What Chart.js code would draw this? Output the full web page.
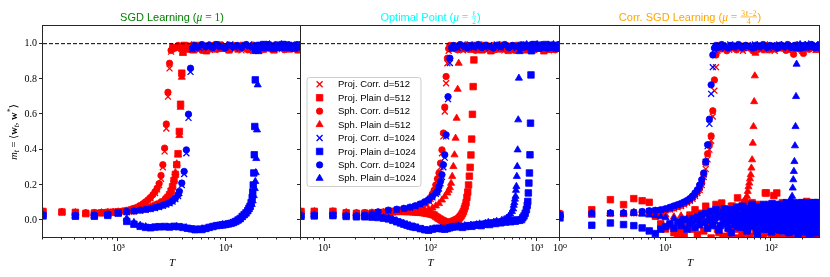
<!DOCTYPE html>
<html><head><meta charset="utf-8">
<script src="https://cdn.jsdelivr.net/npm/chart.js@4.4.0/dist/chart.umd.min.js"></script>
<style>
html,body{margin:0;padding:0;background:#fff;}
#wrap{position:relative;width:830px;height:277px;overflow:hidden;}
#wrap canvas{position:absolute;left:0;top:0;}
</style></head><body>
<div id="wrap">
<canvas id="c1" width="830" height="277"></canvas>
<canvas id="c2" width="830" height="277"></canvas>
<canvas id="c3" width="830" height="277"></canvas>
</div>
<script>
// ================= DATA =================
const seriesLabels = ['Proj. Corr. d=512','Proj. Plain d=512','Sph. Corr. d=512','Sph. Plain d=512',
                      'Proj. Corr. d=1024','Proj. Plain d=1024','Sph. Corr. d=1024','Sph. Plain d=1024'];
const yRange = [-0.1, 1.1];
const yTicks = [0, 0.2, 0.4, 0.6, 0.8, 1.0];
const yTickLabels = ['0.0','0.2','0.4','0.6','0.8','1.0'];
const refLevel = 1.0;

const p1_xRange = [200, 50000];
const p1_xMajor = [1e3, 1e4];
const p1_xMajorLabels = ['10³','10⁴'];
const p2_xRange = [6, 1660];
const p2_xMajor = [10, 100, 1000];
const p2_xMajorLabels = ['10¹','10²','10³'];
const p3_xRange = [1, 290];
const p3_xMajor = [1, 10, 100];
const p3_xMajorLabels = ['10⁰','10¹','10²'];

// ---- Panel 1 : SGD Learning ----
const p1_projCorr512 = [[200,.048],[300,.046],[400,.044],[500,.042],[600,.043],[700,.044],[800,.046],[900,.047],[1000,.049],[1200,.055],[1400,.066],[1600,.08],[1800,.1],[2000,.124],[2200,.155],[2300,.175],[2400,.2],[2500,.235],[2600,.3],[2700,.39],[2800,.52],[2900,.7],[3000,.86],[3100,.955],[3200,.98],[3500,.97],[3800,.988],[4200,.972],[4700,.99],[5200,.968],[5800,.985],[6400,.975],[7100,.992],[7900,.965],[8800,.98],[9800,.99],[11000,.97],[12500,.985],[14000,.962],[16000,.98],[18000,.99],[20500,.97],[23000,.985],[26000,.975],[29000,.99],[33000,.968],[37000,.985],[41000,.975],[45000,.99],[49000,.97]];
const p1_projPlain512 = [[200,.05],[300,.047],[400,.045],[500,.038],[600,.04],[700,.042],[800,.044],[900,.045],[1000,.047],[1200,.05],[1400,.054],[1600,.06],[1800,.066],[2000,.074],[2200,.082],[2400,.092],[2600,.104],[2800,.12],[2900,.13],[3000,.145],[3100,.165],[3200,.19],[3300,.225],[3400,.26],[3500,.315],[3600,.377],[3700,.503],[3800,.657],[3900,.833],[4000,.955],[4100,.99],[4300,.97],[4600,.985],[5000,.965],[5500,.99],[6000,.975],[6600,.96],[7200,.985],[8000,.97],[8800,.992],[9700,.975],[10700,.965],[11800,.985],[13000,.97],[14500,.99],[16000,.975],[18000,.962],[20000,.985],[22500,.97],[25000,.99],[28000,.965],[31000,.98],[35000,.99],[39000,.97],[43000,.985],[47000,.965],[50000,.98]];
const p1_sphCorr512 = [[200,.05],[300,.048],[400,.045],[500,.043],[600,.044],[700,.045],[800,.047],[900,.048],[1000,.05],[1100,.053],[1200,.057],[1300,.062],[1400,.068],[1500,.075],[1600,.084],[1700,.094],[1800,.105],[1900,.117],[2000,.13],[2100,.145],[2200,.162],[2300,.182],[2400,.208],[2500,.254],[2600,.315],[2700,.409],[2800,.545],[2900,.725],[3000,.889],[3100,.962],[3200,.982],[3400,.975],[3600,.99],[3900,.97],[4200,.985],[4600,.968],[5000,.992],[5500,.975],[6000,.962],[6600,.985],[7200,.97],[8000,.995],[8800,.972],[9700,.983],[10700,.965],[11800,.99],[13000,.975],[14500,.985],[16000,.965],[18000,.992],[20000,.978],[22500,.968],[25000,.99],[28000,.975],[31000,.985],[35000,.966],[39000,.99],[43000,.975],[47000,.985],[50000,.97]];
const p1_sphPlain512 = [[200,.048],[300,.046],[400,.044],[500,.04],[600,.041],[700,.043],[800,.044],[900,.046],[1000,.048],[1200,.051],[1400,.056],[1600,.062],[1800,.069],[2000,.077],[2200,.086],[2400,.097],[2600,.11],[2800,.126],[3000,.15],[3100,.17],[3200,.195],[3300,.23],[3400,.27],[3500,.32],[3600,.37],[3700,.48],[3800,.64],[3900,.81],[4000,.945],[4100,.985],[4400,.975],[4800,.99],[5200,.97],[5700,.985],[6300,.965],[6900,.99],[7600,.975],[8400,.985],[9300,.968],[10300,.99],[11400,.975],[12700,.985],[14000,.97],[15500,.99],[17000,.965],[19000,.98],[21500,.99],[24000,.975],[27000,.965],[30000,.985],[34000,.975],[38000,.99],[42000,.97],[46000,.985],[50000,.975]];
const p1_projCorr1024 = [[200,.028],[400,.026],[600,.028],[800,.033],[1000,.04],[1200,.047],[1400,.051],[1600,.055],[1800,.06],[2000,.064],[2200,.07],[2400,.075],[2600,.082],[2800,.089],[3000,.097],[3200,.106],[3400,.12],[3600,.138],[3700,.155],[3900,.2],[4100,.262],[4300,.38],[4500,.58],[4700,.84],[4900,.968],[5200,.985],[5700,.975],[6200,.99],[6800,.98],[7500,.995],[8200,.978],[9000,.99],[10000,.982],[11000,.995],[12200,.975],[13500,.99],[15000,.985],[16500,.995],[18000,.978],[19500,.99],[21500,.982],[23500,.995],[26000,.985],[28500,.975],[31000,.99],[34000,.982],[37000,.995],[40000,.978],[43000,.99],[46000,.985],[49000,.995]];
const p1_projPlain1024 = [[200,.025],[400,.023],[600,.023],[800,.028],[1000,.042],[1200,-.006],[1400,-.022],[1600,-.034],[1800,-.04],[2000,-.042],[2200,-.038],[2400,-.036],[2700,-.035],[3000,-.038],[3300,-.034],[3600,-.036],[4000,-.04],[4400,-.045],[4800,-.048],[5200,-.053],[5600,-.05],[6000,-.052],[6500,-.046],[7000,-.04],[7600,-.035],[8200,-.03],[8800,-.028],[9400,-.026],[10000,-.023],[10600,-.02],[11200,-.017],[11800,-.012],[12400,-.006],[13000,.002],[13600,.01],[14200,.022],[14800,.032],[15400,.042],[16000,.055],[16400,.068],[16800,.08],[17200,.1],[17600,.13],[17800,.16],[18000,.2],[18200,.268],[18400,.371],[18600,.531],[18800,.795],[19000,.964],[19200,.985],[19800,.975],[20600,.99],[21500,.98],[22500,.995],[23500,.978],[25000,.99],[26500,.985],[28000,.975],[30000,.992],[32000,.982],[34000,.995],[36000,.978],[38500,.99],[41000,.985],[43500,.975],[46000,.992],[48500,.982],[50000,.99]];
const p1_sphCorr1024 = [[200,.03],[400,.028],[600,.03],[800,.035],[1000,.042],[1200,.05],[1400,.053],[1600,.058],[1800,.062],[2000,.066],[2200,.072],[2400,.078],[2600,.085],[2800,.092],[3000,.1],[3200,.11],[3400,.125],[3600,.145],[3700,.164],[3900,.211],[4100,.277],[4300,.399],[4500,.601],[4700,.861],[4900,.974],[5100,.99],[5500,.98],[6000,.995],[6500,.982],[7000,.99],[7600,.978],[8300,.995],[9000,.985],[9800,.975],[10700,.992],[11700,.982],[12800,.99],[14000,.978],[15500,.995],[17000,.985],[18500,.975],[20000,.99],[22000,.982],[24000,.995],[26500,.98],[29000,.99],[32000,.978],[35000,.995],[38000,.985],[41000,.975],[44000,.99],[47000,.982],[50000,.995]];
const p1_sphPlain1024 = [[200,.03],[400,.025],[600,.026],[800,.03],[1000,.036],[1200,.01],[1400,-.012],[1600,-.028],[1800,-.036],[2000,-.045],[2300,-.04],[2600,-.042],[2900,-.038],[3200,-.04],[3500,-.035],[3900,-.038],[4300,-.042],[4700,-.05],[5100,-.055],[5500,-.054],[6000,-.048],[6500,-.05],[7000,-.043],[7500,-.038],[8100,-.033],[8700,-.03],[9300,-.024],[9900,-.028],[10500,-.022],[11100,-.018],[11700,-.014],[12300,-.008],[12900,-.002],[13500,.006],[14100,.016],[14700,.028],[15300,.038],[15900,.05],[16400,.062],[16900,.075],[17400,.09],[17800,.11],[18200,.14],[18600,.18],[18800,.22],[19000,.27],[19200,.35],[19500,.512],[19800,.767],[20200,.955],[20600,.985],[21500,.975],[22500,.99],[24000,.98],[25500,.995],[27000,.975],[29000,.99],[31000,.982],[33000,.995],[35500,.978],[38000,.99],[40500,.985],[43000,.975],[45500,.99],[48000,.982],[50000,.995]];

// ---- Panel 2 : Optimal Point ----
const p2_projCorr512 = [[6,.048],[8,.049],[12,.047],[16,.044],[20,.042],[24,.043],[28,.044],[32,.045],[36,.047],[40,.049],[48,.053],[56,.058],[64,.066],[72,.074],[80,.083],[88,.094],[96,.11],[100,.122],[104,.14],[108,.16],[112,.188],[116,.22],[120,.25],[124,.3],[128,.38],[132,.475],[136,.616],[140,.776],[144,.889],[148,.96],[152,.985],[162,.97],[174,.99],[188,.975],[203,.962],[220,.985],[240,.97],[260,.99],[285,.975],[310,.965],[340,.985],[375,.97],[410,.99],[450,.975],[495,.962],[545,.985],[600,.97],[660,.99],[725,.975],[800,.965],[880,.985],[970,.97],[1070,.99],[1180,.975],[1300,.962],[1430,.985],[1580,.97]];
const p2_projPlain512 = [[6,.05],[8,.051],[12,.051],[16,.042],[20,.038],[24,.038],[28,.038],[32,.04],[36,.043],[40,.046],[44,.048],[48,.05],[52,.051],[56,.05],[60,.05],[64,.049],[68,.048],[72,.047],[76,.046],[80,.045],[84,.044],[88,.042],[92,.04],[96,.038],[100,.036],[104,.033],[108,.03],[112,.022],[116,.016],[120,.01],[124,.005],[128,0],[132,-.004],[136,-.008],[140,-.012],[144,-.014],[148,-.015],[152,-.013],[156,-.01],[160,-.008],[164,-.006],[168,-.003],[172,0],[176,.003],[180,.006],[184,.01],[188,.016],[192,.023],[196,.03],[200,.04],[204,.05],[208,.065],[212,.08],[216,.1],[220,.13],[224,.16],[228,.2],[232,.25],[236,.3],[240,.37],[244,.46],[248,.6],[252,.757],[256,.908],[260,.975],[266,.99],[275,.97],[288,.985],[303,.965],[322,.99],[345,.975],[370,.96],[400,.985],[430,.97],[465,.99],[500,.975],[540,.962],[585,.985],[630,.97],[680,.99],[735,.975],[795,.965],[860,.985],[930,.97],[1000,.99],[1080,.975],[1170,.96],[1260,.985],[1360,.97],[1470,.99],[1600,.975]];
const p2_sphCorr512 = [[6,.05],[8,.05],[12,.048],[16,.045],[20,.043],[24,.044],[28,.045],[32,.046],[36,.048],[40,.05],[44,.052],[48,.054],[52,.057],[56,.06],[60,.064],[64,.068],[68,.072],[72,.076],[76,.08],[80,.085],[84,.09],[88,.097],[92,.105],[96,.115],[100,.13],[104,.15],[108,.17],[112,.2],[116,.235],[120,.268],[124,.324],[128,.399],[132,.494],[136,.641],[140,.814],[144,.918],[148,.972],[152,.99],[160,.975],[170,.988],[180,.965],[195,.985],[210,.97],[225,.99],[245,.975],[265,.962],[290,.985],[315,.97],[340,.99],[370,.975],[400,.965],[440,.985],[480,.97],[520,.99],[570,.975],[620,.962],[680,.985],[740,.97],[810,.99],[880,.975],[960,.965],[1050,.985],[1150,.97],[1250,.99],[1370,.975],[1500,.965],[1650,.985]];
const p2_sphPlain512 = [[6,.048],[8,.05],[12,.05],[16,.044],[20,.04],[24,.041],[28,.042],[32,.043],[36,.045],[40,.046],[48,.048],[56,.05],[64,.053],[72,.056],[80,.058],[88,.06],[96,.062],[104,.07],[112,.082],[120,.095],[128,.115],[136,.135],[144,.155],[148,.17],[152,.185],[156,.21],[160,.249],[164,.305],[168,.371],[172,.465],[176,.578],[180,.742],[184,.889],[188,.964],[192,.985],[200,.97],[212,.99],[225,.975],[240,.962],[258,.985],[278,.97],[300,.99],[325,.975],[350,.965],[380,.985],[415,.97],[450,.99],[490,.975],[535,.962],[585,.985],[640,.97],[700,.99],[765,.975],[835,.965],[915,.985],[1000,.97],[1100,.99],[1200,.975],[1320,.962],[1450,.985],[1600,.97]];
const p2_projCorr1024 = [[6,.022],[8,.025],[12,.025],[16,.024],[24,.028],[32,.045],[40,.055],[48,.06],[56,.065],[64,.072],[72,.08],[80,.09],[88,.1],[96,.112],[104,.13],[112,.15],[116,.158],[120,.18],[124,.21],[128,.245],[132,.3],[136,.355],[140,.475],[146,.686],[152,.89],[158,.97],[166,.985],[180,.975],[196,.99],[214,.98],[233,.995],[254,.978],[276,.99],[300,.985],[326,.975],[355,.992],[386,.982],[420,.995],[457,.978],[497,.99],[540,.985],[588,.975],[640,.992],[696,.982],[757,.995],[824,.978],[896,.99],[975,.985],[1060,.975],[1155,.992],[1255,.982],[1365,.995],[1485,.978],[1615,.99]];
const p2_projPlain1024 = [[6,.023],[8,.025],[12,.027],[16,.022],[20,.02],[24,.02],[28,.018],[32,.016],[36,.012],[40,.008],[44,0],[48,-.008],[52,-.015],[56,-.022],[60,-.028],[64,-.033],[68,-.037],[72,-.04],[80,-.047],[88,-.053],[96,-.056],[104,-.05],[112,-.046],[120,-.045],[128,-.048],[136,-.05],[144,-.046],[152,-.042],[160,-.038],[170,-.035],[180,-.036],[190,-.034],[200,-.04],[215,-.035],[230,-.03],[245,-.034],[260,-.028],[280,-.025],[300,-.03],[320,-.022],[340,-.018],[360,-.024],[385,-.015],[410,-.018],[435,-.01],[460,-.014],[485,-.006],[510,-.01],[540,-.003],[570,-.008],[600,0],[630,-.005],[660,.002],[690,0],[720,.004],[740,.015],[760,.025],[780,.04],[800,.06],[815,.085],[825,.107],[835,.155],[845,.211],[855,.268],[865,.371],[875,.55],[884,.823],[893,.96],[905,.99],[930,.98],[960,.995],[1000,.985],[1050,.975],[1100,.99],[1160,.982],[1220,.995],[1290,.978],[1360,.99],[1440,.985],[1530,.975],[1620,.99]];
const p2_sphCorr1024 = [[6,.025],[8,.027],[12,.027],[16,.025],[20,.026],[24,.03],[28,.036],[32,.048],[40,.058],[48,.063],[56,.068],[64,.075],[72,.083],[80,.093],[88,.105],[96,.118],[104,.136],[112,.155],[116,.164],[120,.19],[124,.22],[128,.258],[132,.315],[136,.371],[140,.484],[146,.70],[152,.918],[158,.975],[164,.99],[175,.98],[190,.995],[205,.985],[222,.975],[240,.99],[260,.982],[282,.995],[305,.978],[330,.99],[360,.985],[390,.975],[425,.992],[460,.982],[500,.995],[545,.978],[590,.99],[640,.985],[700,.975],[760,.992],[830,.982],[900,.995],[980,.978],[1070,.99],[1160,.985],[1260,.975],[1370,.992],[1490,.982],[1620,.995]];
const p2_sphPlain1024 = [[6,.028],[8,.03],[12,.03],[16,.026],[20,.024],[24,.022],[28,.02],[32,.018],[36,.015],[40,.012],[44,.006],[48,-.002],[52,-.01],[56,-.018],[60,-.024],[64,-.03],[70,-.036],[76,-.042],[84,-.05],[92,-.058],[100,-.052],[108,-.048],[116,-.05],[124,-.044],[132,-.047],[140,-.052],[150,-.045],[160,-.04],[172,-.037],[184,-.032],[196,-.036],[210,-.03],[225,-.033],[240,-.027],[255,-.03],[272,-.024],[290,-.02],[310,-.026],[330,-.017],[350,-.012],[372,-.018],[395,-.01],[420,-.006],[445,-.012],[470,0],[495,.004],[520,.012],[545,.022],[565,.035],[585,.05],[600,.065],[608,.085],[616,.1],[624,.12],[632,.136],[638,.17],[644,.192],[650,.249],[656,.305],[662,.399],[670,.569],[680,.805],[690,.955],[700,.985],[720,.975],[745,.99],[775,.98],[805,.995],[840,.985],[880,.975],[920,.99],[965,.982],[1010,.995],[1060,.978],[1115,.99],[1170,.985],[1230,.975],[1295,.992],[1365,.982],[1440,.995],[1520,.978],[1600,.99]];

// ---- Panel 3 : Corr. SGD Learning ----
const p3_projCorr512 = [[1,.036],[2,.032],[3,.037],[4,.036],[5,.04],[6,.043],[7,.046],[8,.048],[9,.052],[10,.056],[11,.061],[12,.067],[13,.074],[14,.081],[15,.09],[16,.1],[17,.11],[18,.122],[19,.138],[20,.155],[21,.172],[22,.2],[23,.245],[24,.29],[25,.345],[26,.4],[27,.45],[28,.588],[29,.734],[30,.867],[31,.96],[33,.985],[35,.97],[37,.99],[40,.965],[43,.985],[46,.975],[50,.99],[54,.96],[58,.98],[63,.99],[68,.97],[74,.985],[80,.965],[86,.99],[93,.975],[100,.985],[108,.96],[117,.99],[126,.975],[136,.985],[147,.965],[158,.99],[170,.975],[183,.985],[197,.96],[212,.99],[228,.975],[245,.985],[263,.965],[283,.99]];
const p3_projPlain512 = [[1,.032],[2,.06],[3,.117],[4,.089],[5,.123],[6,.111],[7,.102],[8,.023],[9,-.02],[10,-.049],[11,-.03],[12,-.07],[13,-.09],[14,-.06],[15,-.09],[16,-.02],[17,.03],[18,-.05],[19,.06],[20,-.08],[21,.01],[22,.04],[23,-.06],[24,.08],[25,-.03],[26,.02],[27,-.1],[28,.05],[29,0],[30,.09],[32,-.07],[34,.098],[36,-.006],[38,.06],[40,-.09],[42,.08],[44,.02],[46,-.05],[48,.127],[50,.07],[53,-.08],[56,.1],[59,.03],[62,-.1],[65,.07],[68,.05],[71,-.06],[74,.09],[77,0],[80,.08],[84,-.09],[88,.155],[92,.04],[96,-.07],[100,.06],[104,.01],[108,-.1],[113,.155],[118,.06],[123,-.05],[128,.1],[133,-.02],[138,.09],[143,-.09],[148,.07],[153,0],[158,.07],[163,-.1],[168,.05],[174,.08],[180,-.06],[182,-.09],[188,.1],[194,.02],[200,-.08],[206,.075],[212,.04],[217,.107],[222,-.1],[228,.07],[234,-.03],[240,.085],[246,0],[252,-.09],[260,.07],[266,.05],[272,-.07],[278,.1],[284,-.02],[290,.09],
  [31,-.05],[33,.07],[35,-.09],[37,.04],[39,.06],[41,-.06],[43,.08],[45,0],[47,-.1],[49,.07],[51,.03],[54,-.07],[57,.05],[60,.06],[63,-.09],[66,.1],[69,0],[72,.06],[75,-.08],[78,.07],[81,-.1],[83,.08],[86,.02],[90,.155],[93,-.06],[97,.09],[101,-.1],[106,.14],[110,.04],[115,-.08],[120,.07],[125,.06],[130,-.1],[135,.06],[140,.02],[145,-.07],[150,.08],[155,.08],[160,-.09],[166,.06],[171,.03],[177,-.1],[185,.09],[191,.06],[197,-.07],[203,.07],[209,-.1],[215,.08],[220,.04],[225,-.08],[231,.09],[237,.07],[243,-.1],[249,.06],[256,.03],[263,-.09],[269,.085],[275,.06],[281,-.1],[287,.07]];
const p3_sphCorr512 = [[1,.04],[2,.035],[3,.04],[4,.038],[5,.042],[6,.045],[7,.048],[8,.05],[9,.054],[10,.058],[11,.064],[12,.07],[13,.078],[14,.085],[15,.095],[16,.105],[17,.115],[18,.128],[19,.145],[20,.162],[21,.18],[22,.21],[23,.26],[24,.324],[25,.377],[26,.428],[27,.478],[28,.62],[29,.795],[30,.936],[31,.975],[32,.99],[34,.97],[36,.985],[38,.96],[41,.99],[44,.975],[47,.965],[50,.985],[54,.97],[58,.99],[62,.975],[67,.96],[72,.985],[77,.97],[83,.99],[89,.975],[96,.965],[103,.985],[111,.97],[119,.99],[128,.975],[138,.962],[148,.985],[163,.94],[171,.99],[184,.97],[202,.945],[213,.99],[229,.968],[246,.985],[264,.97],[284,.99]];
const p3_sphPlain512 = [[1,.035],[2,.03],[3,.04],[4,.035],[5,.045],[6,.04],[7,.038],[8,.042],[9,.035],[10,.03],[12,.02],[14,.025],[16,.01],[18,.015],[20,0],[22,.01],[24,-.01],[26,.02],[28,.005],[30,.03],[32,.015],[34,.04],[36,.025],[38,.05],[40,.035],[42,.06],[44,.045],[46,.07],[48,.055],[50,.08],[52,.07],[54,.1],[56,.09],[57,.12],[58,.107],[59,.136],[60,.164],[61,.19],[62,.211],[63,.235],[64,.258],[65,.296],[66,.343],[67,.437],[68,.531],[69,.672],[70,.818],[71,.946],[72,.975],[74,.99],[78,.97],[82,.985],[87,.96],[92,.99],[98,.975],[104,.965],[111,.985],[118,.97],[126,.99],[134,.975],[143,.962],[152,.985],[162,.97],[173,.99],[184,.975],[196,.965],[209,.985],[223,.97],[238,.99],[254,.975],[271,.962],[288,.985]];
const p3_projCorr1024 = [[1,.028],[2,.036],[3,.04],[4,.04],[5,.044],[6,.048],[7,.052],[8,.055],[9,.058],[10,.063],[11,.07],[12,.078],[13,.085],[14,.092],[15,.1],[16,.108],[17,.118],[18,.131],[19,.147],[20,.165],[21,.19],[22,.22],[23,.26],[24,.33],[25,.42],[26,.546],[27,.716],[28,.867],[29,.965],[30,.985],[33,.975],[35,.99],[38,.982],[41,.995],[44,.978],[47,.99],[51,.985],[55,.975],[60,.992],[65,.982],[70,.995],[76,.978],[82,.99],[88,.985],[95,.975],[102,.992],[110,.982],[119,.995],[128,.978],[138,.99],[149,.985],[160,.975],[173,.992],[186,.982],[200,.995],[216,.978],[233,.99],[251,.985],[270,.975],[288,.992]];
const p3_projPlain1024 = [[1,.014],[2,-.028],[3,-.015],[4,-.024],[5,-.03],[6,-.043],[7,-.06],[8,-.075],[9,-.05],[10,-.035],[11,-.02],[12,-.045],[13,-.01],[14,-.03],[15,.005],[16,-.05],[17,-.015],[18,.01],[19,-.04],[20,.02],[21,-.025],[22,.03],[23,-.01],[24,.04],[25,-.045],[26,0],[27,.05],[28,-.03],[29,.015],[30,.06],[32,-.055],[34,.025],[36,.065],[38,-.02],[40,.035],[42,-.07],[44,0],[46,.055],[48,-.035],[50,.075],[53,-.01],[56,.045],[59,-.06],[62,.02],[65,.08],[68,-.025],[71,.05],[74,-.09],[77,.03],[80,-.04],[83,.07],[86,.005],[89,-.05],[92,.06],[95,-.015],[98,.085],[101,-.065],[104,.035],[107,0],[110,.09],[113,-.03],[116,.045],[120,-.055],[124,.065],[128,.01],[132,-.04],[136,.075],[140,-.02],[144,.05],[148,-.07],[152,.03],[156,.09],[160,-.01],[164,.055],[168,-.045],[172,.07],[176,0],[180,-.08],[184,.04],[188,.085],[192,-.03],[196,.02],[200,.06],[205,-.06],[210,.035],[215,.095],[220,-.02],[225,.05],[230,-.09],[235,.01],[240,.07],[245,-.04],[250,.04],[255,.1],[260,-.015],[265,.06],[270,-.07],[275,.03],[280,.08],[285,-.035],[290,.05],
  [31,.02],[33,-.03],[35,.045],[37,.005],[39,-.045],[41,.06],[43,.015],[45,-.025],[47,.07],[49,0],[51,-.04],[52,.03],[54,.08],[55,-.02],[57,.05],[58,.01],[60,-.05],[61,.065],[63,-.015],[64,.04],[66,.09],[67,0],[69,-.035],[70,.055],[72,.015],[73,-.06],[75,.075],[76,.025],[78,-.02],[79,.06],[81,0],[82,-.05],[84,.045],[85,.09],[87,-.03],[88,.03],[90,.07],[91,-.01],[93,-.045],[94,.05],[96,.01],[97,.08],[99,-.025],[100,.04],[102,.095],[103,-.005],[105,.06],[106,-.04],[108,.025],[109,.075],[111,-.02],[112,.05],[114,.005],[115,.085],[117,-.05],[118,.035],[119,.07],[121,0],[122,-.03],[123,.055],[125,.09],[126,-.01],[127,.04],[129,-.06],[130,.065],[131,.02],[133,-.035],[134,.08],[135,.03],[137,-.015],[138,.05],[139,.1],[141,0],[142,-.045],[143,.06],[145,.025],[146,.085],[147,-.025],[149,.04],[150,.07],[151,-.05],[153,.015],[154,.09],[155,-.02],[157,.055],[158,0],[159,.075],[161,-.035],[162,.045],[163,.1],[165,-.01],[166,.03],[167,.065],[169,-.06],[170,.02],[171,.085],[173,-.025],[174,.05],[175,.01],[177,.075],[178,-.045],[179,.035],[181,.095],[182,0],[183,-.03],[185,.06],[186,.015],[187,-.055],[189,.07],[190,.03],[191,-.015],[193,.05],[194,.1],[195,-.04],[197,.065],[198,.005],[199,.08],[201,-.025],[202,.04],[203,-.065],[204,.09],[206,.02],[207,-.01],[208,.06],[209,.075],[211,-.035],[212,.045],[213,0],[214,.085],[216,-.05],[217,.03],[218,.065],[219,.1],[221,.01],[222,-.03],[223,.055],[224,.08],[226,-.015],[227,.04],[228,-.06],[229,.07],[231,.02],[232,.095],[233,-.04],[234,.05],[236,0],[237,.08],[238,-.025],[239,.06],[241,.03],[242,-.05],[243,.09],[244,.015],[246,-.01],[247,.065],[248,.04],[249,-.07],[251,.075],[252,0],[253,.1],[254,-.03],[256,.05],[257,.02],[258,-.045],[259,.085],[261,.035],[262,-.02],[263,.07],[264,.005],[266,.095],[267,-.055],[268,.045],[269,.08],[271,.01],[272,-.035],[273,.06],[274,.1],[276,-.01],[277,.05],[278,-.06],[279,.085],[281,.02],[282,.065],[283,-.025],[284,.04],[286,.09],[287,-.045],[288,.07],[289,.015]];
const p3_sphCorr1024 = [[1,.03],[2,.04],[3,.042],[4,.042],[5,.046],[6,.05],[7,.054],[8,.057],[9,.06],[10,.066],[11,.074],[12,.082],[13,.089],[14,.096],[15,.104],[16,.113],[17,.124],[18,.138],[19,.155],[20,.173],[21,.2],[22,.23],[23,.268],[24,.333],[25,.428],[26,.573],[27,.767],[28,.936],[29,.975],[30,.99],[32,.98],[34,.995],[36,.985],[39,.975],[42,.99],[45,.982],[49,.995],[53,.978],[57,.99],[62,.985],[67,.975],[72,.992],[78,.982],[84,.995],[91,.978],[98,.99],[106,.985],[114,.975],[123,.992],[133,.982],[143,.995],[154,.978],[166,.99],[179,.985],[193,.975],[208,.992],[224,.982],[241,.995],[260,.978],[280,.99]];
const p3_sphPlain1024 = [[1,.03],[2,.04],[3,.038],[4,.042],[5,.04],[6,.035],[7,.03],[8,.028],[9,.02],[10,.015],[12,.01],[14,0],[16,.005],[18,-.01],[20,0],[23,-.015],[26,.01],[29,-.005],[32,.015],[35,0],[38,.02],[41,.005],[44,-.01],[47,.025],[50,.01],[54,.03],[58,-.005],[62,.02],[66,.035],[70,.01],[75,.04],[80,.02],[85,.045],[90,.025],[95,.05],[100,.03],[106,.055],[112,.04],[118,.065],[124,.05],[130,.075],[136,.06],[140,.085],[144,.09],[148,.1],[150,.107],[154,.12],[158,.136],[160,.183],[162,.23],[164,.277],[166,.333],[168,.422],[170,.531],[172,.701],[174,.884],[176,.97],[178,.99],[182,.98],[188,.995],[195,.985],[202,.975],[210,.99],[218,.982],[227,.995],[236,.978],[246,.99],[256,.985],[266,.975],[277,.992],[288,.982]];

// ================= STYLE / LAYOUT =================
const W = 830, H = 277, PLOT_TOP = 26, PLOT_BOTTOM = 238;
const SERIF = '"Liberation Serif", "DejaVu Serif", serif';
const SANS = '"Liberation Sans", "DejaVu Sans", sans-serif';
const fSans = s => `${s}px ${SANS}`;
const fSerif = s => `${s}px ${SERIF}`;
const fISerif = s => `italic ${s}px ${SERIF}`;
const fBSerif = s => `bold ${s}px ${SERIF}`;

const RED = '#ff0000', BLUE = '#0000ff';
const seriesStyles = [
  {color: RED, shape: 'crossRot'}, {color: RED, shape: 'rect'}, {color: RED, shape: 'circle'}, {color: RED, shape: 'triangle'},
  {color: BLUE, shape: 'crossRot'}, {color: BLUE, shape: 'rect'}, {color: BLUE, shape: 'circle'}, {color: BLUE, shape: 'triangle'}
];
const shapeSize = {crossRot: {r: 4.2, bw: 1.3}, rect: {r: 4.6, bw: 0.8}, circle: {r: 3.2, bw: 0.8}, triangle: {r: 4.1, bw: 0.8}};

const panels = [
  {id: 'c1', left: 43, right: 301, xRange: p1_xRange, major: p1_xMajor, majorLabels: p1_xMajorLabels, yLabels: true, legend: false,
   series: [p1_projCorr512, p1_projPlain512, p1_sphCorr512, p1_sphPlain512, p1_projCorr1024, p1_projPlain1024, p1_sphCorr1024, p1_sphPlain1024],
   title: {color: '#008000', segs: [{t: 'SGD Learning (', f: fSans(11)}, {t: 'μ', f: fISerif(11.5)}, {t: ' = 1', f: fSerif(11.5)}, {t: ')', f: fSans(11)}]}},
  {id: 'c2', left: 301, right: 560, xRange: p2_xRange, major: p2_xMajor, majorLabels: p2_xMajorLabels, yLabels: false, legend: true,
   series: [p2_projCorr512, p2_projPlain512, p2_sphCorr512, p2_sphPlain512, p2_projCorr1024, p2_projPlain1024, p2_sphCorr1024, p2_sphPlain1024],
   title: {color: '#00ffff', segs: [{t: 'Optimal Point (', f: fSans(11)}, {t: 'μ', f: fISerif(11.5)}, {t: ' = ', f: fSerif(11.5)}, {num: 'ℓ', den: '2', f: fSerif(7.5)}, {t: ')', f: fSans(11)}]}},
  {id: 'c3', left: 560, right: 820, xRange: p3_xRange, major: p3_xMajor, majorLabels: p3_xMajorLabels, yLabels: false, legend: false,
   series: [p3_projCorr512, p3_projPlain512, p3_sphCorr512, p3_sphPlain512, p3_projCorr1024, p3_projPlain1024, p3_sphCorr1024, p3_sphPlain1024],
   title: {color: '#ffa500', segs: [{t: 'Corr. SGD Learning (', f: fSans(11)}, {t: 'μ', f: fISerif(11.5)}, {t: ' = ', f: fSerif(11.5)}, {num: '3ℓ−2', den: '4', f: fSerif(7.5)}, {t: ')', f: fSans(11)}]}}
];

const yLabelSegs = [{t: 'm', f: fISerif(10.5)}, {t: 't', f: fISerif(7.5), dy: 2}, {t: ' = ⟨', f: fSerif(10.5)}, {t: 'w', f: fBSerif(10.5)},
  {t: 't', f: fISerif(7.5), dy: 2}, {t: ', ', f: fSerif(10.5)}, {t: 'w', f: fBSerif(10.5)}, {t: '*', f: fSerif(8), dy: -4}, {t: '⟩', f: fSerif(10.5)}];

// ================= HELPERS =================
function decadeTicks(range) {
  const out = [];
  const lo = Math.floor(Math.log10(range[0]) + 1e-9), hi = Math.ceil(Math.log10(range[1]) - 1e-9);
  for (let e = lo; e <= hi; e++) for (let k = 1; k <= 9; k++) {
    const v = k * Math.pow(10, e);
    if (v >= range[0] * 0.99999 && v <= range[1] * 1.00001) out.push({value: v, major: k === 1});
  }
  return out;
}
function segWidth(ctx, s) {
  ctx.font = s.f;
  if (s.num !== undefined) return Math.max(ctx.measureText(s.num).width, ctx.measureText(s.den).width) + 2;
  return ctx.measureText(s.t).width;
}
function drawRich(ctx, segs, x, y, color) {
  let w = 0; const ws = segs.map(s => { const v = segWidth(ctx, s); w += v; return v; });
  let cx = x - w / 2;
  ctx.fillStyle = color; ctx.strokeStyle = color; ctx.textBaseline = 'alphabetic'; ctx.textAlign = 'left';
  segs.forEach((s, i) => {
    ctx.font = s.f;
    if (s.num !== undefined) {
      const bar = y - 3.6, mid = cx + ws[i] / 2;
      ctx.textAlign = 'center';
      ctx.fillText(s.num, mid, bar - 1.3);
      ctx.fillText(s.den, mid, bar + 6.6);
      ctx.textAlign = 'left';
      ctx.lineWidth = 0.7; ctx.beginPath(); ctx.moveTo(cx + 0.5, bar); ctx.lineTo(cx + ws[i] - 0.5, bar); ctx.stroke();
    } else {
      ctx.fillText(s.t, cx, y + (s.dy || 0));
    }
    cx += ws[i];
  });
}
function drawShape(ctx, shape, r, x, y) {
  ctx.beginPath();
  if (shape === 'circle') { ctx.arc(x, y, r, 0, Math.PI * 2); ctx.fill(); ctx.stroke(); }
  else if (shape === 'rect') { const s = r * Math.SQRT1_2; ctx.rect(x - s, y - s, 2 * s, 2 * s); ctx.fill(); ctx.stroke(); }
  else if (shape === 'triangle') {
    ctx.moveTo(x, y - r); ctx.lineTo(x + r * 0.8660254, y + r * 0.5); ctx.lineTo(x - r * 0.8660254, y + r * 0.5); ctx.closePath(); ctx.fill(); ctx.stroke();
  } else {
    const s = r * Math.SQRT1_2;
    ctx.moveTo(x - s, y - s); ctx.lineTo(x + s, y + s); ctx.moveTo(x + s, y - s); ctx.lineTo(x - s, y + s); ctx.stroke();
  }
}

function makeDeco(cfg) {
  return {
    id: 'deco_' + cfg.id,
    afterDatasetsDraw(chart) {
      const ctx = chart.ctx, a = chart.chartArea, xs = chart.scales.x, ys = chart.scales.y;
      ctx.save();
      const L = Math.round(a.left) - 0.5, R = Math.round(a.right) - 0.5, T = Math.round(a.top) - 0.5, B = Math.round(a.bottom) - 0.5;
      ctx.strokeStyle = '#262626'; ctx.lineWidth = 1;
      ctx.strokeRect(L, T, R - L, B - T);
      ctx.beginPath();
      xs.ticks.forEach(t => {
        const p = Math.round(xs.getPixelForValue(t.value)) - 0.5;
        if (p < L - 0.1 || p > R + 0.1) return;
        const len = t.major ? 3.5 : 2;
        ctx.moveTo(p, B); ctx.lineTo(p, B + len);
      });
      ys.ticks.forEach(t => {
        const p = Math.round(ys.getPixelForValue(t.value)) - 0.5;
        ctx.moveTo(L, p); ctx.lineTo(L - 3.5, p);
      });
      ctx.stroke();
      ctx.restore();
    },
    afterDraw(chart) {
      const ctx = chart.ctx, a = chart.chartArea;
      ctx.save();
      const cx = (a.left + a.right) / 2;
      drawRich(ctx, cfg.title.segs, cx, 20.5, cfg.title.color);
      ctx.fillStyle = '#000'; ctx.font = fISerif(11); ctx.textAlign = 'center'; ctx.textBaseline = 'alphabetic';
      ctx.fillText('T', cx, 266);
      if (cfg.yLabels) {
        ctx.save(); ctx.translate(17, (a.top + a.bottom) / 2); ctx.rotate(-Math.PI / 2);
        drawRich(ctx, yLabelSegs, 0, 0, '#000');
        ctx.restore();
      }
      if (cfg.legend) {
        const bx = a.left + 6, by = 77.5, bw = 114, bh = 109, rr = 2.5;
        ctx.beginPath();
        ctx.moveTo(bx + rr, by); ctx.lineTo(bx + bw - rr, by); ctx.quadraticCurveTo(bx + bw, by, bx + bw, by + rr);
        ctx.lineTo(bx + bw, by + bh - rr); ctx.quadraticCurveTo(bx + bw, by + bh, bx + bw - rr, by + bh);
        ctx.lineTo(bx + rr, by + bh); ctx.quadraticCurveTo(bx, by + bh, bx, by + bh - rr);
        ctx.lineTo(bx, by + rr); ctx.quadraticCurveTo(bx, by, bx + rr, by); ctx.closePath();
        ctx.fillStyle = 'rgba(255,255,255,0.8)'; ctx.fill();
        ctx.strokeStyle = '#cccccc'; ctx.lineWidth = 1; ctx.stroke();
        seriesLabels.forEach((lab, i) => {
          const y = by + 6.8 + i * 13.43, st = seriesStyles[i], sz = shapeSize[st.shape];
          ctx.fillStyle = st.color; ctx.strokeStyle = st.color; ctx.lineWidth = sz.bw;
          drawShape(ctx, st.shape, sz.r, bx + 12.6, y);
          ctx.fillStyle = '#000'; ctx.font = fSans(9.5); ctx.textAlign = 'left'; ctx.textBaseline = 'middle';
          ctx.fillText(lab, bx + 31, y + 0.5);
        });
      }
      ctx.restore();
    }
  };
}

function makePanel(cfg) {
  const datasets = cfg.series.map((pts, i) => {
    const st = seriesStyles[i], sz = shapeSize[st.shape];
    return {type: 'scatter', label: seriesLabels[i], data: pts.map(p => ({x: p[0], y: p[1]})),
      pointStyle: st.shape, pointRadius: sz.r, pointHoverRadius: sz.r, pointBorderWidth: sz.bw,
      pointBackgroundColor: st.color, pointBorderColor: st.color, backgroundColor: st.color, borderColor: st.color,
      showLine: false, order: 8 - i, clip: 0};
  });
  datasets.push({type: 'line', label: 'ref', data: [{x: cfg.xRange[0], y: refLevel}, {x: cfg.xRange[1], y: refLevel}],
    borderColor: '#000', borderWidth: 1, borderDash: [4, 2], pointRadius: 0, order: 0, clip: 0, fill: false, tension: 0});
  const xTicks = decadeTicks(cfg.xRange);
  new Chart(document.getElementById(cfg.id), {
    type: 'scatter',
    data: {datasets},
    options: {
      responsive: false, animation: false, devicePixelRatio: 1, events: [],
      layout: {padding: {left: 0, right: W - cfg.right, top: PLOT_TOP, bottom: 0}},
      plugins: {legend: {display: false}, tooltip: {enabled: false}, title: {display: false}},
      scales: {
        x: {type: 'logarithmic', position: 'bottom', min: cfg.xRange[0], max: cfg.xRange[1],
          afterBuildTicks: s => { s.ticks = xTicks.map(t => ({value: t.value, major: t.major})); },
          afterFit: s => { s.height = H - PLOT_BOTTOM; },
          ticks: {autoSkip: false, maxRotation: 0, minRotation: 0, padding: 4, color: '#000', font: {family: SERIF, size: 10},
            callback: v => { const i = cfg.major.findIndex(m => Math.abs(m - v) / m < 1e-6); return i >= 0 ? cfg.majorLabels[i] : ''; }},
          grid: {display: false, drawTicks: false}, border: {display: false}},
        y: {type: 'linear', position: 'left', min: yRange[0], max: yRange[1],
          afterBuildTicks: s => { s.ticks = yTicks.map(v => ({value: v})); },
          afterFit: s => { s.width = cfg.left; },
          ticks: {display: cfg.yLabels, padding: 6, color: '#000', font: {family: SERIF, size: 10},
            callback: v => { const i = yTicks.findIndex(t => Math.abs(t - v) < 1e-9); return i >= 0 ? yTickLabels[i] : ''; }},
          grid: {display: false, drawTicks: false}, border: {display: false}}
      }
    },
    plugins: [makeDeco(cfg)]
  });
}
panels.forEach(makePanel);
</script>
</body></html>
